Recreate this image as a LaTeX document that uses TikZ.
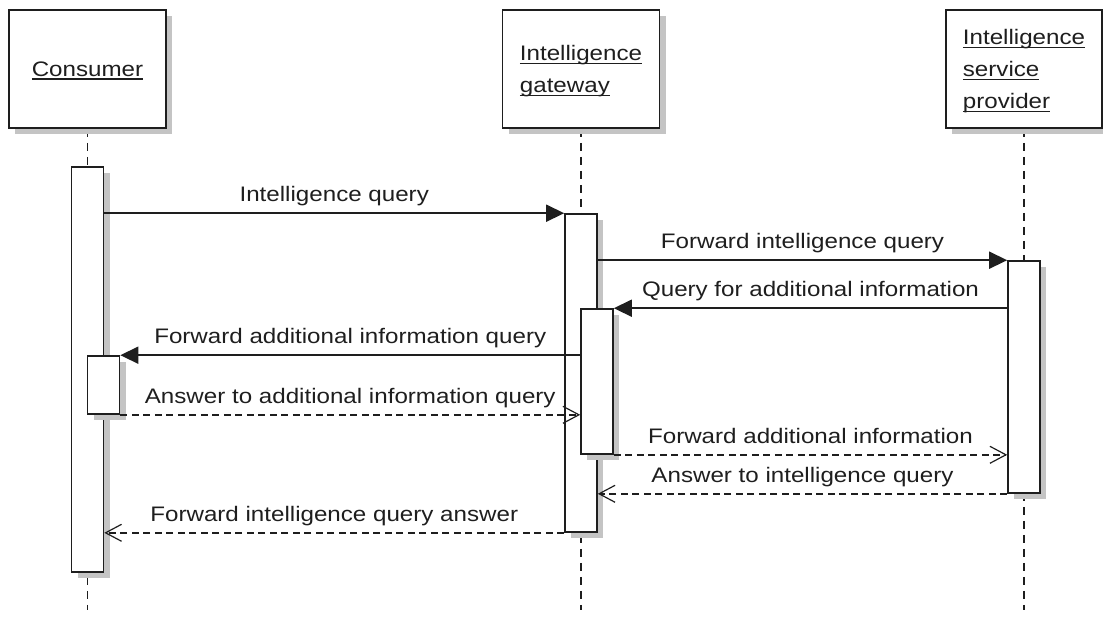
\documentclass[tikz,border=0pt]{standalone}
\usepackage{fontspec}
\setmainfont{Liberation Sans}[FakeStretch=1.15]
\usetikzlibrary{arrows.meta,shadows,backgrounds}

\definecolor{ink}{HTML}{1E1E1E}
\definecolor{shade}{HTML}{C4C4C4}

% underline at a fixed depth below the baseline
\newcommand\undl[1]{\setbox0\hbox{#1}\rlap{\rule[-3.2pt]{\wd0}{1.1pt}}\box0}

\tikzset{
  actor/.style={draw=ink, line width=1.7pt, fill=white, minimum width=157pt,
    minimum height=118pt, align=left, text depth=0pt, inner sep=0pt,
    drop shadow={shadow xshift=6pt, shadow yshift=-6pt, fill=shade, opacity=1}},
  bar/.style={draw=ink, line width=1.6pt, fill=white, minimum width=32pt,
    inner sep=0pt,
    drop shadow={shadow xshift=6pt, shadow yshift=-6pt, fill=shade, opacity=1}},
  life/.style={draw=ink, line width=1.5pt, dash pattern=on 8pt off 6pt},
  call/.style={draw=ink, line width=1.6pt, -{Triangle[length=18pt,width=17pt]}},
  reply/.style={draw=ink, line width=1.4pt, dash pattern=on 7pt off 4.5pt,
    -{Straight Barb[length=16pt,width=17pt,line width=1.2pt]}},
  lbl/.style={midway, anchor=base, yshift=11.5pt, inner sep=0pt, text=ink}
}

\begin{document}
\begin{tikzpicture}[x=1pt, y=-1pt, font=\fontsize{21pt}{32pt}\selectfont, text=ink]
\useasboundingbox (0,0) rectangle (1103,617);

% participants
\node[actor] (cons) at (87.5,69) {\undl{Consumer}};
\node[actor] (gate) at (581,69) {\undl{Intelligence}\\\undl{gateway}};
\node[actor, minimum width=156pt] (prov) at (1024,69)
  {\undl{Intelligence}\\\undl{service}\\\undl{provider}};

% ends of the lifelines
\coordinate (consEnd) at (87.5,610);
\coordinate (gateEnd) at (581,610);
\coordinate (provEnd) at (1024,610);

\begin{scope}[on background layer]
  \draw[life] (cons.south) -- (consEnd);
  \draw[life] (gate.south) -- (gateEnd);
  \draw[life] (prov.south) -- (provEnd);
\end{scope}

% activation bars
\node[bar, minimum height=405pt] (cbar) at (87.5,369.5) {};
\node[bar, minimum height=318pt] (gbar) at (581,373) {};
\node[bar, minimum height=232pt] (pbar) at (1024,377) {};
\node[bar, minimum height=145pt] (gbar2) at (597,381.5) {};
\node[bar, minimum height=58pt] (cbar2) at (103.5,385) {};

% messages
\draw[call] (cbar.east |- gbar.north) -- node[lbl] (m1) {Intelligence query} (gbar.north west);
\draw[call] (gbar.east |- pbar.north) -- node[lbl] (m2) {Forward intelligence query} (pbar.north west);
\draw[call] (pbar.west |- gbar2.north) -- node[lbl] (m3) {Query for additional information} (gbar2.north east);
\draw[call] (gbar2.west |- cbar2.north) -- node[lbl] (m4) {Forward additional information query} (cbar2.north east);
\draw[reply] (cbar2.south east) -- node[lbl] (m5) {Answer to additional information query} (gbar2.west |- cbar2.south);
\draw[reply] (gbar2.south east) -- node[lbl] (m6) {Forward additional information} (pbar.west |- gbar2.south);
\draw[reply] (pbar.south west) -- node[lbl] (m7) {Answer to intelligence query} (gbar.east |- pbar.south);
\draw[reply] (gbar.south west) -- node[lbl] (m8) {Forward intelligence query answer} (cbar.east |- gbar.south);
\end{tikzpicture}
\end{document}
